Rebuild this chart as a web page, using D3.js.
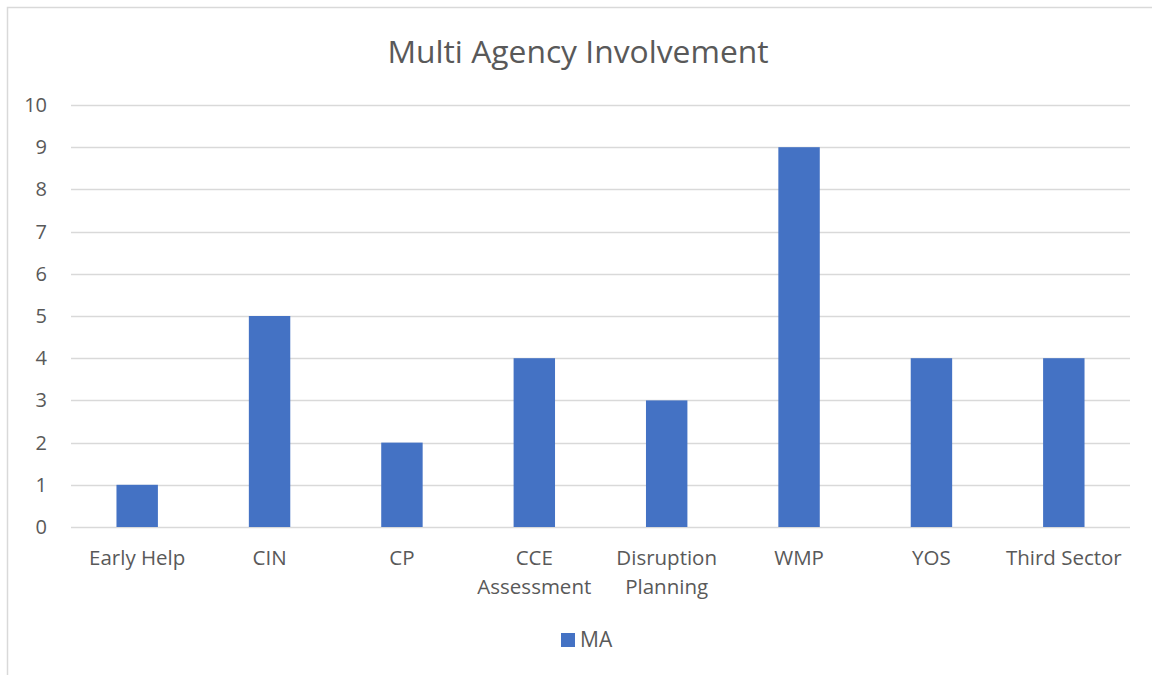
<!DOCTYPE html>
<html>
<head>
<meta charset="utf-8">
<script src="https://cdn.jsdelivr.net/npm/d3@7"></script>
<style>
    body { margin: 0; background: #fff; }
    text { font-family: "Open Sans", "Liberation Sans", sans-serif; fill: #595959; }
</style>
</head>
<body>
<script>
var categories = ["Early Help", "CIN", "CP", "CCE Assessment", "Disruption Planning", "WMP", "YOS", "Third Sector"];
var values = [1, 5, 2, 4, 3, 9, 4, 4];
var yTicks = [0, 1, 2, 3, 4, 5, 6, 7, 8, 9, 10];
var seriesName = "MA";
var title = "Multi Agency Involvement";

var width = 1152,
    height = 675;

var margin = {left: 71, right: 22, top: 105, bottom: 148};

var svg = d3.select('body')
    .append('svg')
    .attr('width', width)
    .attr('height', height);

// chart frame, cut off at right and bottom like the original
svg.append("rect")
    .attr("x", 7.5)
    .attr("y", 7.5)
    .attr("width", width + 20)
    .attr("height", height + 20)
    .attr("fill", "white")
    .attr("stroke", "#d9d9d9")
    .attr("stroke-width", 1.5);

var x = d3.scaleBand()
    .domain(categories)
    .range([margin.left, width - margin.right])
    .paddingInner(0.687)
    .paddingOuter(0.3435);

var y = d3.scaleLinear()
    .domain([0, 10])
    .range([height - margin.bottom, margin.top]);

// gridlines
svg.append("g")
    .selectAll("line")
    .data(yTicks)
    .enter()
    .append("line")
    .attr("x1", margin.left)
    .attr("x2", width - margin.right)
    .attr("y1", function (d) { return Math.round(y(d)) + 0.5; })
    .attr("y2", function (d) { return Math.round(y(d)) + 0.5; })
    .attr("stroke", "#d9d9d9")
    .attr("stroke-width", 1.5);

// y axis labels
var yAxis = d3.axisLeft(y).tickValues(yTicks).tickSize(0).tickPadding(24);
var gy = svg.append("g")
    .attr("transform", "translate(" + margin.left + ",0)")
    .call(yAxis);
gy.select(".domain").remove();
gy.selectAll("text")
    .style("font-size", "20px")
    .style("font-family", null)
    .attr("fill", "#595959");

// bars
svg.append("g")
    .selectAll("rect")
    .data(values)
    .enter()
    .append("rect")
    .attr("x", function (d, i) { return x(categories[i]); })
    .attr("y", function (d) { return y(d); })
    .attr("width", x.bandwidth())
    .attr("height", function (d) { return y(0) - y(d); })
    .attr("fill", "#4472c4");

// category labels, wrapped to two lines where needed
var xLabels = svg.append("g")
    .selectAll("text")
    .data(categories)
    .enter()
    .append("text")
    .attr("text-anchor", "middle")
    .style("font-size", "20.5px")
    .attr("x", function (d) { return x(d) + x.bandwidth() / 2; });

xLabels.each(function (d) {
    var el = d3.select(this);
    var lines = (d === "CCE Assessment" || d === "Disruption Planning") ? d.split(" ") : [d];
    lines.forEach(function (ln, k) {
        el.append("tspan")
            .attr("x", x(d) + x.bandwidth() / 2)
            .attr("y", 565 + k * 29)
            .text(ln);
    });
});

// title
svg.append("text")
    .attr("x", 578)
    .attr("y", 63)
    .attr("text-anchor", "middle")
    .style("font-size", "31.8px")
    .text(title);

// legend
svg.append("rect")
    .attr("x", 561)
    .attr("y", 633)
    .attr("width", 14)
    .attr("height", 14)
    .attr("fill", "#4472c4");
svg.append("text")
    .attr("x", 580)
    .attr("y", 647)
    .style("font-size", "21px")
    .text(seriesName);
</script>
</body>
</html>
